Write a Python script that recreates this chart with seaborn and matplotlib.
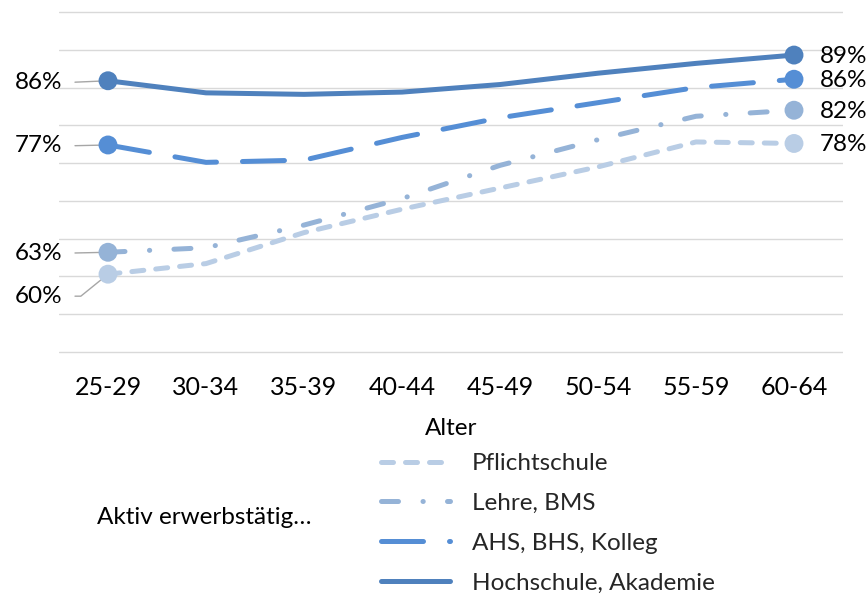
import matplotlib
matplotlib.use("Agg")
import matplotlib.pyplot as plt
import seaborn as sns
import pandas as pd
import numpy as np
from matplotlib.lines import Line2D

# ---------------- data ----------------
age_groups = ["25-29", "30-34", "35-39", "40-44", "45-49", "50-54", "55-59", "60-64"]
series_names = ["Pflichtschule", "Lehre, BMS", "AHS, BHS, Kolleg", "Hochschule, Akademie"]
pflichtschule = [60.3, 61.7, 65.8, 68.9, 71.7, 74.5, 77.8, 77.6]
lehre_bms = [63.2, 63.8, 66.8, 70.3, 74.7, 78.1, 81.2, 82.0]
ahs_bhs_kolleg = [77.4, 75.1, 75.4, 78.4, 81.0, 83.0, 85.0, 86.1]
hochschule = [85.9, 84.3, 84.1, 84.4, 85.4, 86.9, 88.2, 89.3]
start_labels = ["60%", "63%", "77%", "86%"]
end_labels = ["78%", "82%", "86%", "89%"]
x_title = "Alter"
legend_title = "Aktiv erwerbstätig…"

# ---------------- style ----------------
sns.set_theme(style="white")
plt.rcParams["font.family"] = ["Lato", "DejaVu Sans"]
FS = 17.5
FS_TICK = 18

colors = ["#B9CDE5", "#95B3D7", "#558ED5", "#4F81BD"]
palette = dict(zip(series_names, colors))
dashes = {
    "Pflichtschule": (2.4, 2.4),
    "Lehre, BMS": (3.4, 4.9, 0.05, 4.85),
    "AHS, BHS, Kolleg": (8.4, 5.2),
    "Hochschule, Akademie": "",
}
LW = 3.6

values = [pflichtschule, lehre_bms, ahs_bhs_kolleg, hochschule]
df = pd.DataFrame({
    "Alter": age_groups * len(series_names),
    "Wert": np.concatenate(values),
    "Serie": np.repeat(series_names, len(age_groups)),
})

W, H = 867, 597
fig = plt.figure(figsize=(W / 100, H / 100), dpi=100)
ymin, ymax = 49.5, 95.5
ppu = 340 / 45.0
top_px = 12 - 0.5 * ppu
bot_px = 352 + 0.5 * ppu
ax = fig.add_axes([59 / W, 1 - bot_px / H, 784 / W, (bot_px - top_px) / H])

sns.lineplot(data=df, x="Alter", y="Wert", hue="Serie", style="Serie",
             hue_order=series_names, style_order=series_names,
             palette=palette, dashes=dashes, linewidth=LW, sort=False,
             legend=False, ax=ax, dash_capstyle="round", solid_capstyle="round",
             solid_joinstyle="round", dash_joinstyle="round")

ends = df[df["Alter"].isin([age_groups[0], age_groups[-1]])]
sns.scatterplot(data=ends, x="Alter", y="Wert", hue="Serie", hue_order=series_names,
                palette=palette, s=185, edgecolor="none", legend=False, ax=ax, zorder=5)

ax.set_xlim(-0.5, len(age_groups) - 0.5)
ax.set_ylim(ymin, ymax)
ax.set_yticks(np.arange(50, 96, 5))
ax.set_yticklabels([])
ax.yaxis.grid(True, color="#D9D9D9", linewidth=1.0)
ax.xaxis.grid(False)
ax.set_axisbelow(True)
for s in ax.spines.values():
    s.set_visible(False)
ax.tick_params(axis="x", length=0, pad=14.5, labelsize=FS_TICK, labelcolor="black")
ax.tick_params(axis="y", length=0)
ax.set_xlabel(x_title, fontsize=FS, color="black", labelpad=14)
ax.set_ylabel("")

# start labels with leader lines
start_offsets = {  # pixel offsets of label right edge relative to point
    "Pflichtschule": (-46, -22),
    "Lehre, BMS": (-46, -1),
    "AHS, BHS, Kolleg": (-46, -1),
    "Hochschule, Akademie": (-46, -2),
}
for name, vals, lab in zip(series_names, values, start_labels):
    dx, dy = start_offsets[name]
    cs = "angle,angleA=0,angleB=39,rad=0" if name == "Pflichtschule" else "arc3"
    ax.annotate(lab, xy=(0, vals[0]), xytext=(dx, dy), textcoords="offset pixels",
                ha="right", va="center", fontsize=FS, color="black",
                annotation_clip=False, zorder=4,
                arrowprops=dict(arrowstyle="-", color="#A6A6A6", lw=1.0,
                                shrinkA=7, shrinkB=0, relpos=(1, 0.5),
                                connectionstyle=cs))

# end labels
for name, vals, lab in zip(series_names, values, end_labels):
    ax.annotate(lab, xy=(len(age_groups) - 1, vals[-1]), xytext=(26, -1),
                textcoords="offset pixels", ha="left", va="center",
                fontsize=FS, color="black", annotation_clip=False, zorder=4)

# legend
handles = []
for n in series_names:
    if dashes[n]:
        handles.append(Line2D([], [], color=palette[n], lw=LW, dashes=dashes[n],
                              dash_capstyle="round"))
    else:
        handles.append(Line2D([], [], color=palette[n], lw=LW, solid_capstyle="round"))
fig.legend(handles, series_names, loc="upper left", bbox_to_anchor=(381 / W, 1 - 453 / H),
           frameon=False, fontsize=FS, handlelength=2.85, handletextpad=0.88,
           labelspacing=0.78, borderpad=0, borderaxespad=0)
fig.text(97 / W, 1 - 518 / H, legend_title, fontsize=FS, color="black", va="center", ha="left")

fig.savefig("out.png", dpi=100)
